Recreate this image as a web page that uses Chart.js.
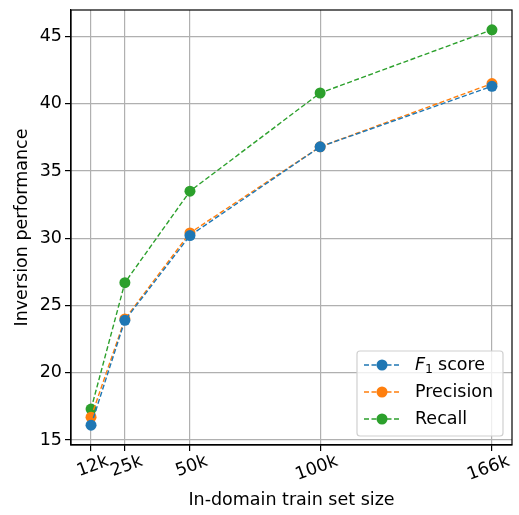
<!DOCTYPE html>
<html>
<head>
<meta charset="utf-8">
<script src="https://cdn.jsdelivr.net/npm/chart.js@4/dist/chart.umd.min.js"></script>
<style>
  html, body { margin: 0; padding: 0; background: #fff; }
  #wrap { width: 519px; height: 515px; position: relative; }
</style>
</head>
<body>
<div id="wrap"><canvas id="chart"></canvas></div>
<script>
// data
const trainSizes = [12, 25, 50, 100, 166];           // thousands
const xTickLabels = ['12k', '25k', '50k', '100k', '166k'];
const yTicks = [15, 20, 25, 30, 35, 40, 45];
const f1Score   = [16.1, 23.9, 30.2, 36.8, 41.3];
const precision = [16.7, 24.0, 30.4, 36.8, 41.5];
const recall    = [17.3, 26.7, 33.5, 40.8, 45.5];

const FONT = "'DejaVu Sans', sans-serif";
const FS = 17.5;

function toPoints(vals) {
    return vals.map((v, i) => ({ x: trainSizes[i], y: v }));
}

function makeSet(label, vals, color) {
    return {
        label: label,
        data: toPoints(vals),
        borderColor: color,
        backgroundColor: color,
        borderWidth: 1.4,
        borderDash: [5, 2.5],
        pointRadius: 5.5,
        pointHoverRadius: 5.5,
        pointBorderWidth: 0,
        tension: 0
    };
}

// closed box around the plot (top + right spines)
const frame = {
    id: 'frame',
    afterDatasetsDraw(chart) {
        const { ctx, chartArea: a } = chart;
        ctx.save();
        ctx.strokeStyle = '#000';
        ctx.lineWidth = 1.2;
        ctx.strokeRect(a.left, a.top, a.right - a.left, a.bottom - a.top);
        ctx.restore();
    }
};

// legend drawn inside the plot, lower right, like matplotlib
const innerLegend = {
    id: 'innerLegend',
    afterDraw(chart) {
        const ctx = chart.ctx;
        const area = chart.chartArea;
        const w = 146, h = 85;
        const x0 = area.right - 9 - w;
        const y0 = area.bottom - 9 - h;
        ctx.save();
        ctx.beginPath();
        ctx.roundRect(x0, y0, w, h, 3);
        ctx.fillStyle = 'rgba(255,255,255,0.8)';
        ctx.fill();
        ctx.strokeStyle = '#d0d0d0';
        ctx.lineWidth = 1.2;
        ctx.stroke();

        chart.data.datasets.forEach((ds, i) => {
            const y = y0 + 14 + i * 27;
            ctx.strokeStyle = ds.borderColor;
            ctx.lineWidth = 1.4;
            ctx.setLineDash([5, 2.5]);
            ctx.beginPath();
            ctx.moveTo(x0 + 7, y);
            ctx.lineTo(x0 + 43, y);
            ctx.stroke();
            ctx.setLineDash([]);
            ctx.fillStyle = ds.borderColor;
            ctx.beginPath();
            ctx.arc(x0 + 25, y, 5.5, 0, Math.PI * 2);
            ctx.fill();

            ctx.fillStyle = '#000';
            ctx.textBaseline = 'middle';
            ctx.textAlign = 'left';
            let tx = x0 + 58;
            if (ds.label === 'F1 score') {
                ctx.font = 'italic ' + FS + 'px ' + FONT;
                ctx.fillText('F', tx, y);
                tx += ctx.measureText('F').width;
                ctx.font = '12.5px ' + FONT;
                ctx.fillText('1', tx, y + 5);
                tx += ctx.measureText('1').width + 5;
                ctx.font = FS + 'px ' + FONT;
                ctx.fillText('score', tx, y);
            } else {
                ctx.font = FS + 'px ' + FONT;
                ctx.fillText(ds.label, tx, y);
            }
        });
        ctx.restore();
    }
};

new Chart(document.getElementById('chart'), {
    type: 'line',
    data: {
        datasets: [
            makeSet('F1 score', f1Score, '#1f77b4'),
            makeSet('Precision', precision, '#ff7f0e'),
            makeSet('Recall', recall, '#2ca02c')
        ]
    },
    options: {
        responsive: true,
        maintainAspectRatio: false,
        animation: false,
        layout: { padding: { top: 10, right: 7, left: 8, bottom: 0 } },
        plugins: {
            legend: { display: false },
            tooltip: { enabled: false }
        },
        scales: {
            x: {
                type: 'linear',
                min: 4.3,
                max: 173.7,
                afterBuildTicks: (scale) => {
                    scale.ticks = trainSizes.map(v => ({ value: v }));
                },
                afterFit: (scale) => { scale.height = 70; },
                ticks: {
                    minRotation: 20,
                    maxRotation: 20,
                    labelOffset: 17,
                    padding: 0,
                    color: '#000',
                    font: { family: FONT, size: FS },
                    callback: (v) => xTickLabels[trainSizes.indexOf(v)]
                },
                grid: { color: '#b0b0b0', lineWidth: 1.2, tickLength: 6, tickColor: '#000' },
                border: { color: '#000', width: 1.2 },
                title: {
                    display: true,
                    text: 'In-domain train set size',
                    color: '#000',
                    font: { family: FONT, size: FS },
                    padding: { top: 0 }
                }
            },
            y: {
                min: 14.63,
                max: 46.97,
                afterBuildTicks: (scale) => {
                    scale.ticks = yTicks.map(v => ({ value: v }));
                },
                afterFit: (scale) => {
                    scale.width = 63;
                    scale.paddingTop = 0;
                    scale.paddingBottom = 0;
                },
                ticks: {
                    padding: 3,
                    color: '#000',
                    font: { family: FONT, size: FS }
                },
                grid: { color: '#b0b0b0', lineWidth: 1.2, tickLength: 6, tickColor: '#000' },
                border: { color: '#000', width: 1.2 },
                title: {
                    display: true,
                    text: 'Inversion performance',
                    color: '#000',
                    font: { family: FONT, size: FS },
                    padding: { bottom: 4 }
                }
            }
        }
    },
    plugins: [frame, innerLegend]
});
</script>
</body>
</html>
